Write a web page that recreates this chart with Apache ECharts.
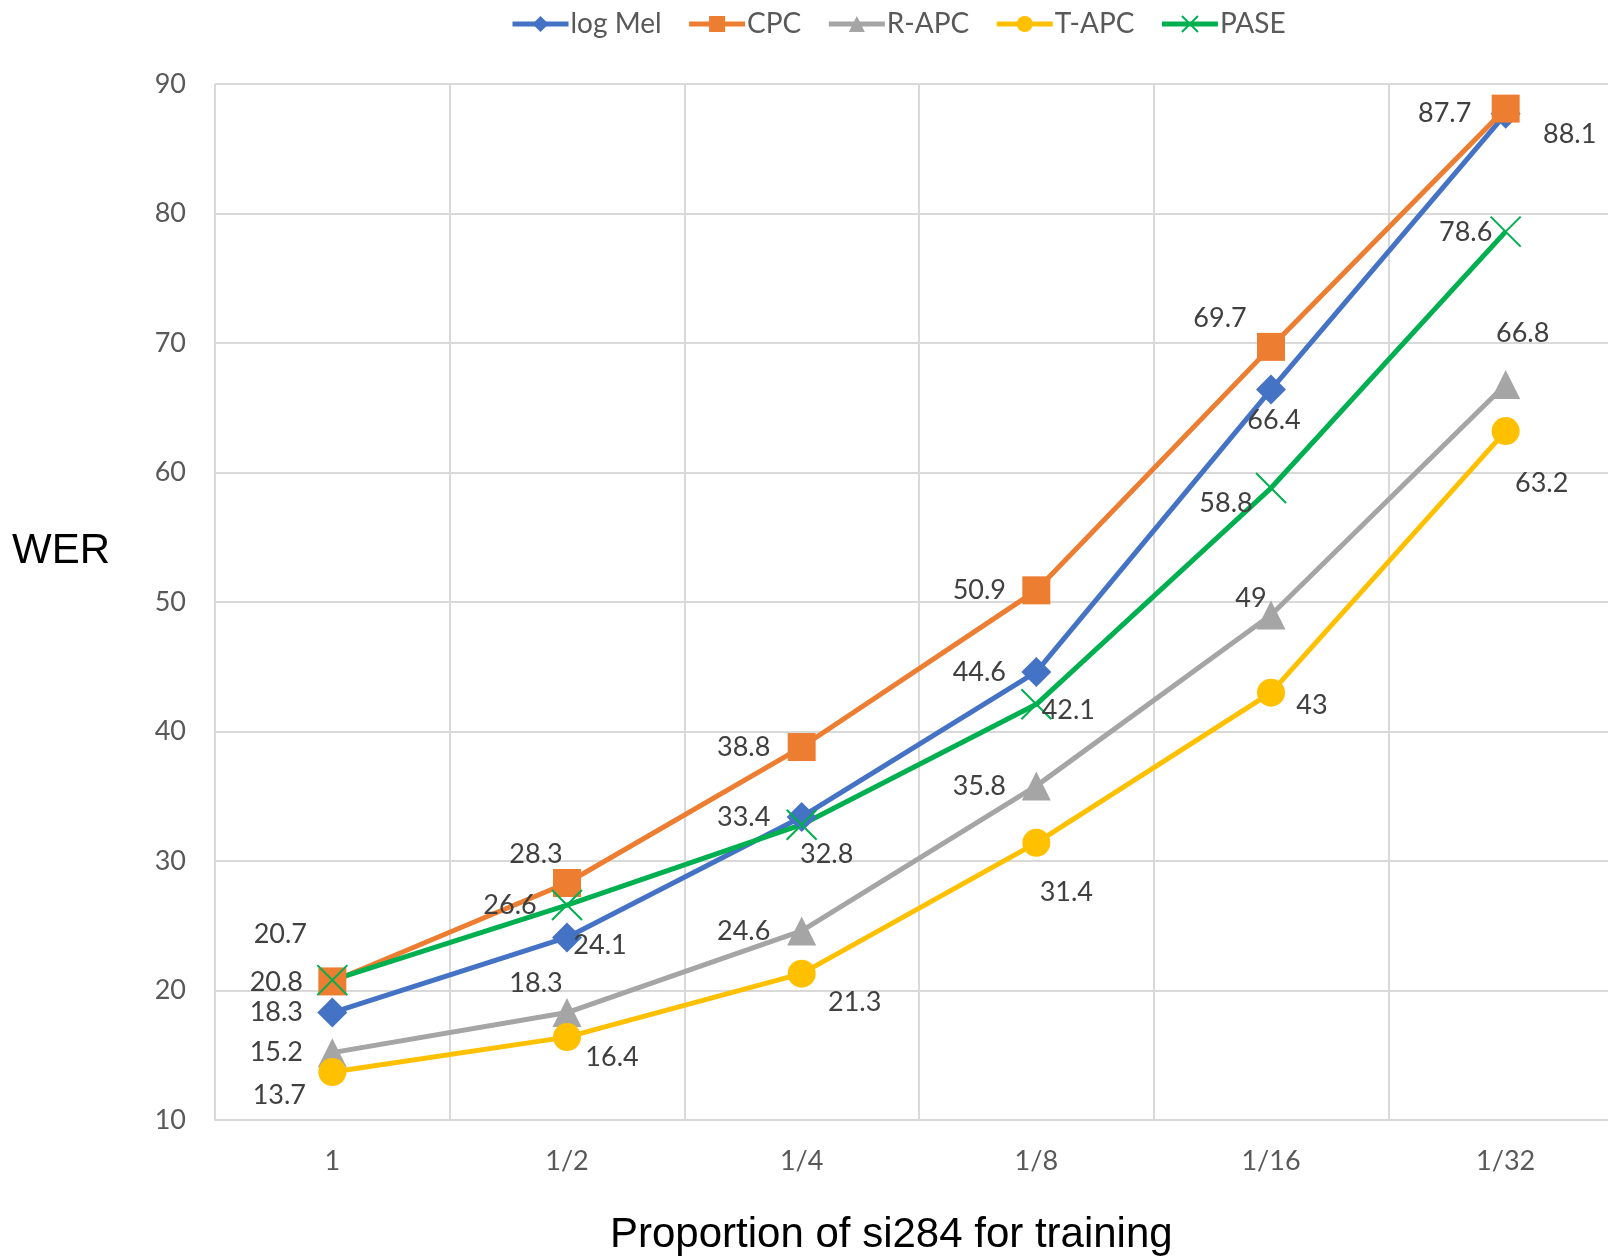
<!DOCTYPE html>
<html>
<head>
<meta charset="utf-8">
<script src="https://cdn.jsdelivr.net/npm/echarts@6/dist/echarts.min.js"></script>
<style>
html,body{margin:0;padding:0;background:#fff;overflow:hidden;width:1608px;height:1256px;}
#c{width:1623px;height:1256px;}
</style>
</head>
<body>
<div id="c"></div>
<script>
const categories = ['1', '1/2', '1/4', '1/8', '1/16', '1/32'];
const seriesNames = ['log Mel', 'CPC', 'R-APC', 'T-APC', 'PASE'];
const logMel = [18.3, 24.1, 33.4, 44.6, 66.4, 87.7];
const cpc    = [20.7, 28.3, 38.8, 50.9, 69.7, 88.1];
const rapc   = [15.2, 18.3, 24.6, 35.8, 49, 66.8];
const tapc   = [13.7, 16.4, 21.3, 31.4, 43, 63.2];
const pase   = [20.8, 26.6, 32.8, 42.1, 58.8, 78.6];
const yTicks = {min: 10, max: 90, interval: 10};

// label offsets (px) from each point, kept apart from the values
const offLogMel = [[-56,0],[33,8],[-58,0],[-57,0],[3,31],[-61,0]];
const offCpc    = [[-52,-47],[-31,-29],[-58,0],[-57,0],[-51,-29],[64,26]];
const offRapc   = [[-56,0],[-31,-29],[-58,0],[-57,0],[-20,-17],[17,-51]];
const offTapc   = [[-53,23],[45,20],[53,29],[30,49],[41,13],[36,52]];
const offPase   = [[-56,2],[-57,0],[25,30],[32,6],[-45,15],[-40,1]];

const FONT = 'Lato';
function mk(name, vals, offs, color, symbol, size, extraItem) {
  return {
    name: name,
    type: 'line',
    data: vals.map((v, i) => ({
      value: v,
      label: {offset: offs[i]}
    })),
    symbol: symbol,
    symbolSize: size,
    symbolKeepAspect: true,
    lineStyle: {color: color, width: 5},
    itemStyle: Object.assign({color: color}, extraItem || {}),
    label: {
      show: true,
      position: 'inside',
      color: '#404040',
      fontFamily: FONT,
      fontSize: 27,
      textBorderWidth: 0,
      formatter: p => String(p.value)
    },
    emphasis: {disabled: true},
    animation: false,
    z: 2
  };
}

const chart = echarts.init(document.getElementById('c'));
chart.setOption({
  animation: false,
  backgroundColor: '#fff',
  legend: {
    data: seriesNames,
    left: 505,
    top: 5,
    itemWidth: 56,
    itemHeight: 20,
    itemGap: 25,
    lineStyle: {width: 5},
    textStyle: {color: '#595959', fontFamily: FONT, fontSize: 28, padding: [0,0,0,-3]}
  },
  grid: {left: 215, right: 0, top: 84, bottom: 136, containLabel: false},
  xAxis: {
    type: 'category',
    data: categories,
    boundaryGap: true,
    axisLine: {show: true, lineStyle: {color: '#D9D9D9', width: 2}},
    axisTick: {show: false},
    axisLabel: {color: '#595959', fontFamily: FONT, fontSize: 27, margin: 28},
    splitLine: {show: true, lineStyle: {color: '#D9D9D9', width: 2}}
  },
  yAxis: {
    type: 'value',
    min: yTicks.min, max: yTicks.max, interval: yTicks.interval,
    axisLine: {show: false},
    axisTick: {show: false},
    axisLabel: {color: '#595959', fontFamily: FONT, fontSize: 27, margin: 29},
    splitLine: {show: true, lineStyle: {color: '#D9D9D9', width: 2}}
  },
  graphic: [
    {type: 'text', left: 12, top: 530,
     style: {text: 'WER', fill: '#000', font: '42px "Liberation Sans"'}},
    {type: 'text', left: 610, top: 1214,
     style: {text: 'Proportion of si284 for training', fill: '#000', font: '42px "Liberation Sans"'}}
  ],
  series: [
    mk('log Mel', logMel, offLogMel, '#4472C4', 'diamond', 30),
    mk('CPC', cpc, offCpc, '#ED7D31', 'rect', 28),
    mk('R-APC', rapc, offRapc, '#A5A5A5', 'triangle', 29),
    mk('T-APC', tapc, offTapc, '#FFC000', 'circle', 28),
    mk('PASE', pase, offPase, '#00B050', 'path://M0 0L20 20M20 0L0 20', 30,
       {borderColor: '#00B050', borderWidth: 2})
  ]
});
</script>
</body>
</html>
